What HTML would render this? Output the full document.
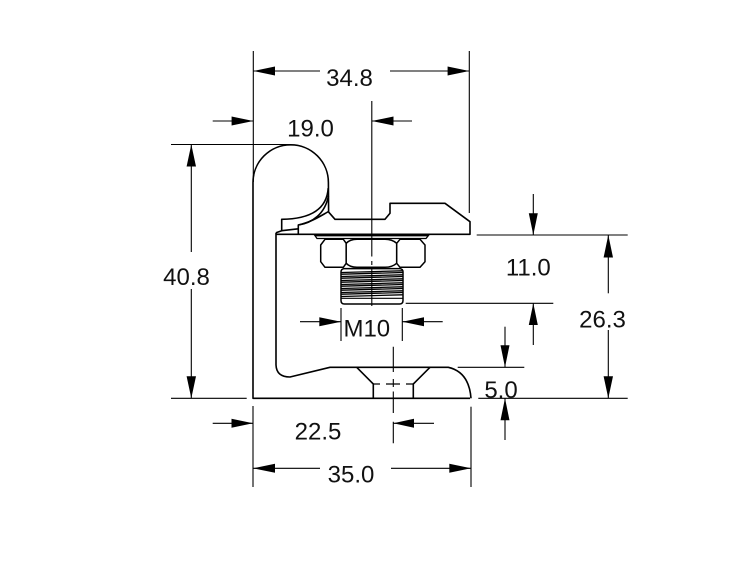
<!DOCTYPE html>
<html>
<head>
<meta charset="utf-8">
<style>
html,body{margin:0;padding:0;background:#fff;}
svg{display:block;}
text{font-family:"Liberation Sans",sans-serif;font-size:24px;fill:#111;}
</style>
</head>
<body>
<svg width="755" height="567" viewBox="0 0 755 567" xmlns="http://www.w3.org/2000/svg">
<rect width="755" height="567" fill="#fff"/>

<!-- ================= PART OUTLINES ================= -->
<g fill="none" stroke="#000" stroke-width="1.6" stroke-linejoin="round">
  <!-- L profile outer with bead -->
  <path d="M470,398.3 L253,398.3 L253,182.5 A37.7,37.7 0 0 1 328.4,182.5 L328.6,211.5"/>
  <!-- bead lower arcs -->
  <path d="M328.2,188 C327,208 312,219 281.7,219.3 L281.7,230.7 L276,232.8"/>
  <path d="M328.4,196 C325,214 312,223 298.3,225"/>
  <path d="M281.7,230.7 L298.3,228.8"/>
  <!-- clamp top piece -->
  <path d="M298.3,234.3 L298.3,225 C312,222 322,215 328.3,211.7 L335,219.3 L385,219.3 L390,213.3 L390,203.3 L445,203.3 L470,221.7 L470,234.3 L276,234.3"/>
  <!-- L profile inner -->
  <path d="M276,232.8 L276,365 Q276.5,377 290,377 L330,367.3 L448.3,367.3 Q469,372 471,398.3"/>
  <!-- countersink -->
  <path d="M356.7,367.3 L373.3,384 L373.3,398.3"/>
  <path d="M430,367.3 L413.3,384 L413.3,398.3"/>
</g>
<g fill="none" stroke="#000" stroke-width="1.3">
  <path d="M373.3,384 H380 M386,384 H400 M406,384 H413.3"/>
</g>

<!-- washer -->
<path d="M315,235.7 L428.3,235.7 L426,238.5 L317,238.5 Z" fill="none" stroke="#000" stroke-width="1.3"/>

<!-- nut -->
<g fill="#fff" stroke="#000" stroke-width="1.5" stroke-linejoin="round">
  <path d="M346.2,243.3 L343.3,239.3 L325,239.3 L320.7,245 L320.7,261.7 L325,267.3 L343.3,267.3 L346.2,263.3 Z"/>
  <path d="M346.2,243.3 Q350,239.3 357,239.3 L385,239.3 Q392,239.3 396.7,243.3 L396.7,263.3 Q392,267.3 385,267.3 L357,267.3 Q350,267.3 346.2,263.3 Z"/>
  <path d="M396.7,243.3 L400,239.3 L420,239.3 L425,245 L425,261.7 L420,267.3 L400,267.3 L396.7,263.3 Z"/>
</g>

<!-- thread -->
<g fill="none" stroke="#000" stroke-linecap="round">
  <path d="M344,268.6 L400,268.6 Q403,269 403,272 L403,300.5 Q403,304 399.5,304 L344.5,304 Q341,304 341,300.5 L341,272 Q341,269 344,268.6 Z" stroke-width="1.5" fill="#fff"/>
  <line x1="341.5" y1="298.3" x2="402.5" y2="298.3" stroke-width="1.2"/>
  <g stroke-width="1.3">
    <line x1="342" y1="272.5" x2="402" y2="270.8"/>
    <line x1="342" y1="274.2" x2="402" y2="272.5"/>
    <line x1="342" y1="276.5" x2="402" y2="274.8"/>
    <line x1="342" y1="278.2" x2="402" y2="276.5"/>
    <line x1="342" y1="280.5" x2="402" y2="278.8"/>
    <line x1="342" y1="282.2" x2="402" y2="280.5"/>
    <line x1="342" y1="284.5" x2="402" y2="282.8"/>
    <line x1="342" y1="286.2" x2="402" y2="284.5"/>
    <line x1="342" y1="288.5" x2="402" y2="286.8"/>
    <line x1="342" y1="290.2" x2="402" y2="288.5"/>
    <line x1="342" y1="292.5" x2="402" y2="290.8"/>
    <line x1="342" y1="294.2" x2="402" y2="292.5"/>
    <line x1="342" y1="296.5" x2="402" y2="294.8"/>
  </g>
</g>

<!-- ================= CENTER LINES ================= -->
<g stroke="#000" stroke-width="1.1" fill="none">
  <path d="M371.8,101 V256.5 M371.8,261 V265 M371.8,268 V306"/>
  <path d="M393.3,346.7 V372 M393.3,379 V387 M393.3,391.5 V413 M393.3,421.7 V443.3"/>
</g>

<!-- ================= DIMENSION / EXTENSION LINES ================= -->
<g stroke="#000" stroke-width="1.1" fill="none">
  <!-- extension lines -->
  <line x1="253.3" y1="51" x2="253.3" y2="182"/>
  <line x1="469.3" y1="51" x2="469.3" y2="213"/>
  <line x1="171" y1="144.5" x2="291" y2="144.5"/>
  <line x1="171" y1="398.3" x2="246.7" y2="398.3"/>
  <line x1="253" y1="406" x2="253" y2="487"/>
  <line x1="471" y1="406.7" x2="471" y2="487"/>
  <line x1="476.7" y1="235" x2="627.7" y2="235"/>
  <line x1="405.7" y1="303.3" x2="553.3" y2="303.3"/>
  <line x1="457.7" y1="367.3" x2="524.3" y2="367.3"/>
  <line x1="478.3" y1="398.3" x2="627.7" y2="398.3"/>
  <line x1="341" y1="308" x2="341" y2="341"/>
  <line x1="402.3" y1="308" x2="402.3" y2="341"/>

  <!-- 34.8 -->
  <line x1="253.3" y1="71" x2="320" y2="71"/>
  <line x1="390" y1="71" x2="469.3" y2="71"/>
  <!-- 19.0 -->
  <line x1="212.7" y1="121" x2="253.3" y2="121"/>
  <line x1="371.8" y1="121" x2="412" y2="121"/>
  <!-- 40.8 -->
  <line x1="191.3" y1="144.5" x2="191.3" y2="252"/>
  <line x1="191.3" y1="289" x2="191.3" y2="398.3"/>
  <!-- M10 -->
  <line x1="300" y1="321.7" x2="341" y2="321.7"/>
  <line x1="402.3" y1="321.7" x2="442.7" y2="321.7"/>
  <!-- 11.0 -->
  <line x1="533.3" y1="194" x2="533.3" y2="235"/>
  <line x1="533.3" y1="303.3" x2="533.3" y2="345"/>
  <!-- 26.3 -->
  <line x1="608.3" y1="235" x2="608.3" y2="293.3"/>
  <line x1="608.3" y1="330" x2="608.3" y2="398.3"/>
  <!-- 5.0 -->
  <line x1="505" y1="326.7" x2="505" y2="367.3"/>
  <line x1="505" y1="398.3" x2="505" y2="440"/>
  <!-- 22.5 -->
  <line x1="212.7" y1="423.3" x2="253" y2="423.3"/>
  <line x1="393.3" y1="423.3" x2="434" y2="423.3"/>
  <!-- 35.0 -->
  <line x1="253" y1="468.3" x2="320" y2="468.3"/>
  <line x1="391" y1="468.3" x2="471" y2="468.3"/>
</g>

<!-- ================= ARROWHEADS ================= -->
<g fill="#000" stroke="none">
  <!-- 34.8 -->
  <polygon points="253.3,71 275,66.5 275,75.5"/>
  <polygon points="469.3,71 447.6,66.5 447.6,75.5"/>
  <!-- 19.0 -->
  <polygon points="253.3,121 231.6,116.5 231.6,125.5"/>
  <polygon points="371.8,121 393.5,116.5 393.5,125.5"/>
  <!-- 40.8 -->
  <polygon points="191.3,144.5 186.6,166.5 196,166.5"/>
  <polygon points="191.3,398.3 186.6,376.3 196,376.3"/>
  <!-- M10 -->
  <polygon points="341,321.7 319.3,317.2 319.3,326.2"/>
  <polygon points="402.3,321.7 424,317.2 424,326.2"/>
  <!-- 11.0 -->
  <polygon points="533.3,235 528.8,213.3 537.8,213.3"/>
  <polygon points="533.3,303.3 528.8,325 537.8,325"/>
  <!-- 26.3 -->
  <polygon points="608.3,235 603.6,257.5 613,257.5"/>
  <polygon points="608.3,398.3 603.6,376.3 613,376.3"/>
  <!-- 5.0 -->
  <polygon points="505,367.3 500.5,345.3 509.5,345.3"/>
  <polygon points="505,398.3 500.5,420.3 509.5,420.3"/>
  <!-- 22.5 -->
  <polygon points="253,423.3 231.5,418.8 231.5,427.8"/>
  <polygon points="393.3,423.3 414,418.8 414,427.8"/>
  <!-- 35.0 -->
  <polygon points="253,468.3 275,463.8 275,472.8"/>
  <polygon points="471,468.3 449.3,463.8 449.3,472.8"/>
</g>

<!-- ================= LABELS ================= -->
<g text-anchor="middle">
  <text x="349.5" y="86">34.8</text>
  <text x="310.5" y="136.5">19.0</text>
  <text x="186.5" y="285">40.8</text>
  <text x="366.8" y="336.7">M10</text>
  <text x="528.3" y="275.7">11.0</text>
  <text x="602.5" y="327.7">26.3</text>
  <text x="501" y="398">5.0</text>
  <text x="318" y="439.3">22.5</text>
  <text x="351" y="482.7">35.0</text>
</g>
</svg>
</body>
</html>
